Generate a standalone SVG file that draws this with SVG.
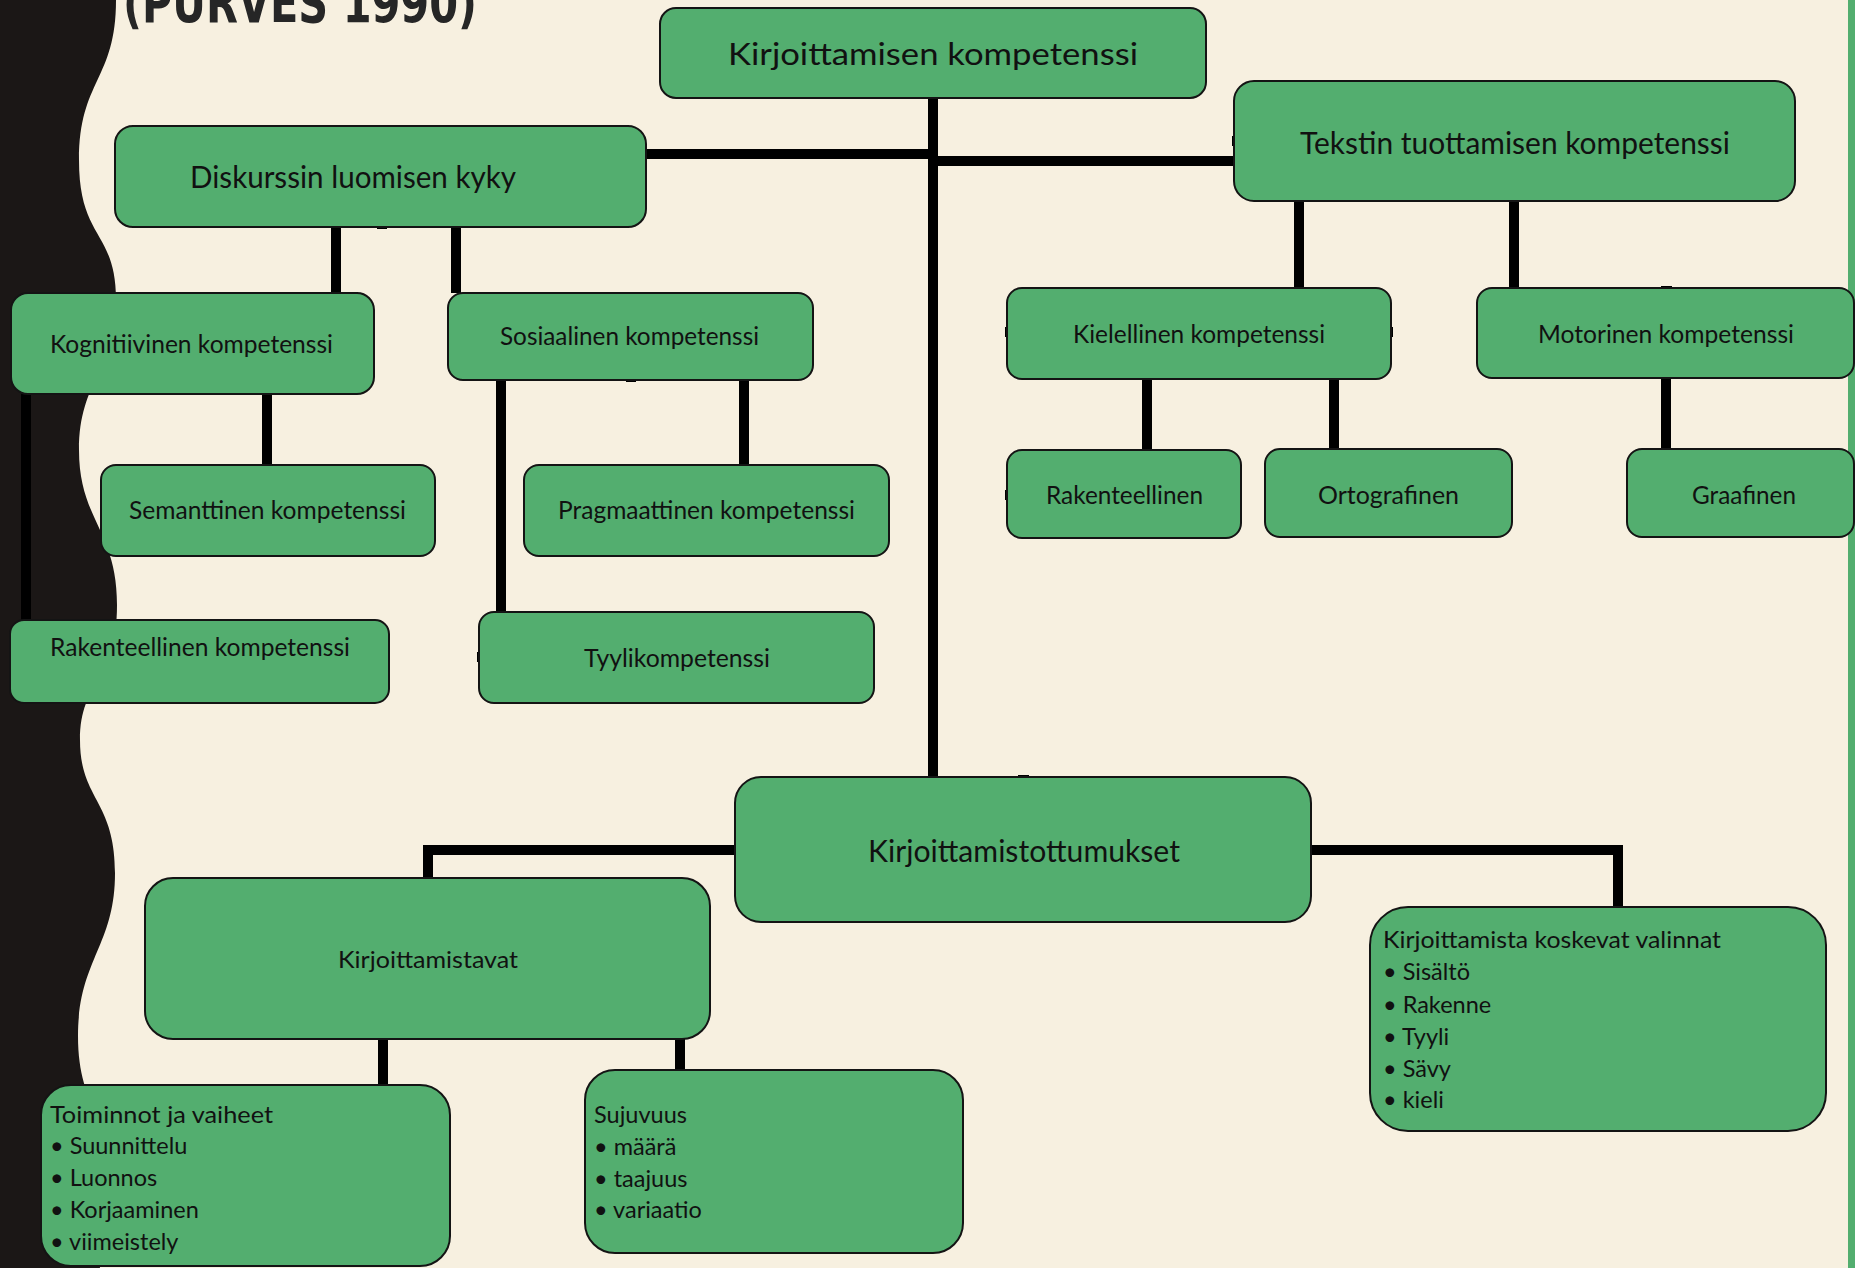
<svg xmlns="http://www.w3.org/2000/svg" width="1855" height="1268" viewBox="0 0 1855 1268">
<style>
.box{fill:#53AE6F;stroke:#141414;stroke-width:2}
.t{font-family:Lato,"Open Sans","Liberation Sans",sans-serif;fill:#111}
.big{font-size:31px}
.mid{font-size:25px}
.sm{font-size:23.5px}
.con{fill:none;stroke:#000;stroke-width:10;stroke-linecap:butt;stroke-linejoin:miter}
.tick{fill:#000}
</style>
<rect x="0" y="0" width="1855" height="1268" fill="#F7F0E0"/>
<path d="M0,0 H116 C116,80 79,80 79,160 S116,230 116,300 S79,380 79,450 S117,530 117,605 S80,680 80,740 S115,800 115,873 S78,960 78,1036 S115,1120 115,1190 S100,1250 100,1268 H0 Z" fill="#1B1716"/>
<rect x="1848" y="0" width="7" height="1268" fill="#53AE6F"/>
<text x="123" y="22" font-family="'Liberation Sans Narrow','DejaVu Sans Condensed','DejaVu Sans',sans-serif" font-weight="bold" font-size="56" fill="#262626" textLength="354" lengthAdjust="spacingAndGlyphs">(PURVES 1990)</text>
<g id="connectors">
<path class="con" d="M933,98 V777"/>
<path class="con" d="M646,154 H938"/>
<path class="con" d="M928,161 H1234"/>
<path class="con" d="M336,227 V293"/>
<path class="con" d="M456,227 V293"/>
<path class="con" d="M267,394 V465"/>
<path class="con" d="M26,394 V620"/>
<path class="con" d="M501,380 V612"/>
<path class="con" d="M744,380 V465"/>
<path class="con" d="M1299,201 V288"/>
<path class="con" d="M1514,201 V288"/>
<path class="con" d="M1147,379 V450"/>
<path class="con" d="M1334,378 V449"/>
<path class="con" d="M1666,378 V449"/>
<path class="con" d="M735,850 H428 V878"/>
<path class="con" d="M1311,850 H1618 V907"/>
<path class="con" d="M383,1039 V1085"/>
<path class="con" d="M680,1039 V1070"/>
<rect class="tick" x="377" y="226" width="10" height="3"/>
<rect class="tick" x="626" y="379" width="10" height="3"/>
<rect class="tick" x="1018" y="775" width="11" height="3"/>
<rect class="tick" x="1661" y="286" width="11" height="3"/>
<rect class="tick" x="1232" y="136" width="3" height="10"/>
<rect class="tick" x="1005" y="327" width="3" height="10"/>
<rect class="tick" x="1390" y="327" width="3" height="10"/>
<rect class="tick" x="1005" y="490" width="3" height="10"/>
<rect class="tick" x="477" y="652" width="3" height="10"/>
</g>
<g id="n-kirjoittamisen"><rect class="box" x="660" y="8" width="546" height="90" rx="16"/><text class="t big" x="728" y="65" textLength="410" lengthAdjust="spacingAndGlyphs">Kirjoittamisen kompetenssi</text></g>
<g id="n-diskurssin"><rect class="box" x="115" y="126" width="531" height="101" rx="18"/><text class="t big" x="190" y="188" textLength="326" lengthAdjust="spacingAndGlyphs">Diskurssin luomisen kyky</text></g>
<g id="n-tekstin"><rect class="box" x="1234" y="81" width="561" height="120" rx="20"/><text class="t big" x="1300" y="154" textLength="430" lengthAdjust="spacingAndGlyphs">Tekstin tuottamisen kompetenssi</text></g>
<g id="n-kognitiivinen"><rect class="box" x="11" y="293" width="363" height="101" rx="17"/><text class="t mid" x="50" y="353" textLength="283" lengthAdjust="spacingAndGlyphs">Kognitiivinen kompetenssi</text></g>
<g id="n-sosiaalinen"><rect class="box" x="448" y="293" width="365" height="87" rx="15"/><text class="t mid" x="500" y="345" textLength="259" lengthAdjust="spacingAndGlyphs">Sosiaalinen kompetenssi</text></g>
<g id="n-semanttinen"><rect class="box" x="101" y="465" width="334" height="91" rx="15"/><text class="t mid" x="129" y="519" textLength="277" lengthAdjust="spacingAndGlyphs">Semanttinen kompetenssi</text></g>
<g id="n-pragmaattinen"><rect class="box" x="524" y="465" width="365" height="91" rx="15"/><text class="t mid" x="558" y="519" textLength="297" lengthAdjust="spacingAndGlyphs">Pragmaattinen kompetenssi</text></g>
<g id="n-rakenteellinen-komp"><rect class="box" x="10" y="620" width="379" height="83" rx="14"/><text class="t mid" x="50" y="656" textLength="300" lengthAdjust="spacingAndGlyphs">Rakenteellinen kompetenssi</text></g>
<g id="n-tyyli"><rect class="box" x="479" y="612" width="395" height="91" rx="15"/><text class="t mid" x="584" y="667" textLength="186" lengthAdjust="spacingAndGlyphs">Tyylikompetenssi</text></g>
<g id="n-kielellinen"><rect class="box" x="1007" y="288" width="384" height="91" rx="15"/><text class="t mid" x="1073" y="343" textLength="252" lengthAdjust="spacingAndGlyphs">Kielellinen kompetenssi</text></g>
<g id="n-motorinen"><rect class="box" x="1477" y="288" width="377" height="90" rx="15"/><text class="t mid" x="1538" y="343" textLength="256" lengthAdjust="spacingAndGlyphs">Motorinen kompetenssi</text></g>
<g id="n-rakenteellinen"><rect class="box" x="1007" y="450" width="234" height="88" rx="15"/><text class="t mid" x="1046" y="504" textLength="157" lengthAdjust="spacingAndGlyphs">Rakenteellinen</text></g>
<g id="n-ortografinen"><rect class="box" x="1265" y="449" width="247" height="88" rx="15"/><text class="t mid" x="1318" y="504" textLength="141" lengthAdjust="spacingAndGlyphs">Ortografinen</text></g>
<g id="n-graafinen"><rect class="box" x="1627" y="449" width="227" height="88" rx="15"/><text class="t mid" x="1692" y="504" textLength="104" lengthAdjust="spacingAndGlyphs">Graafinen</text></g>
<g id="n-tottumukset"><rect class="box" x="735" y="777" width="576" height="145" rx="26"/><text class="t big" x="868" y="862" textLength="312" lengthAdjust="spacingAndGlyphs">Kirjoittamistottumukset</text></g>
<g id="n-valinnat"><rect class="box" x="1370" y="907" width="456" height="224" rx="38"/><text class="t sm" x="1383" y="948" textLength="338" lengthAdjust="spacingAndGlyphs">Kirjoittamista koskevat valinnat</text><text class="t sm" x="1383" y="980">• Sisältö</text><text class="t sm" x="1383" y="1013">• Rakenne</text><text class="t sm" x="1383" y="1045">• Tyyli</text><text class="t sm" x="1383" y="1077">• Sävy</text><text class="t sm" x="1383" y="1108">• kieli</text></g>
<g id="n-tavat"><rect class="box" x="145" y="878" width="565" height="161" rx="28"/><text class="t sm" x="338" y="968" textLength="180" lengthAdjust="spacingAndGlyphs">Kirjoittamistavat</text></g>
<g id="n-toiminnot"><rect class="box" x="41" y="1085" width="409" height="181" rx="30"/><text class="t sm" x="50" y="1123" textLength="223" lengthAdjust="spacingAndGlyphs">Toiminnot ja vaiheet</text><text class="t sm" x="50" y="1154">• Suunnittelu</text><text class="t sm" x="50" y="1186">• Luonnos</text><text class="t sm" x="50" y="1218">• Korjaaminen</text><text class="t sm" x="50" y="1250">• viimeistely</text></g>
<g id="n-sujuvuus"><rect class="box" x="585" y="1070" width="378" height="183" rx="30"/><text class="t sm" x="594" y="1123" textLength="93" lengthAdjust="spacingAndGlyphs">Sujuvuus</text><text class="t sm" x="594" y="1155">• määrä</text><text class="t sm" x="594" y="1187">• taajuus</text><text class="t sm" x="594" y="1218">• variaatio</text></g>
</svg>
